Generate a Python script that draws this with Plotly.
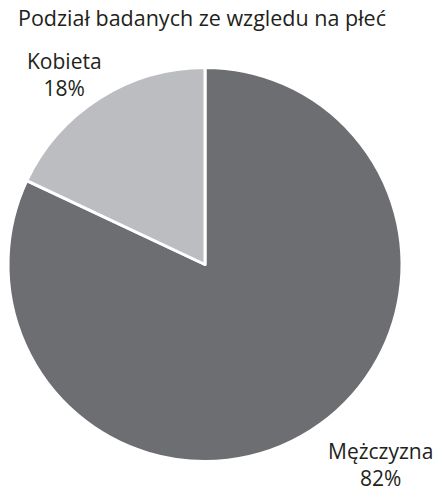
import plotly.graph_objects as go

# gender split of respondents (clockwise from 12 o'clock)
labels = ["Mężczyzna", "Kobieta"]
values = [82, 18]
colors = ["#6d6e71", "#bcbdc0"]

W, H = 435, 493

fig = go.Figure()
fig.add_trace(go.Pie(
    labels=labels,
    values=values,
    sort=False,
    direction="clockwise",
    rotation=0,
    marker=dict(colors=colors, line=dict(color="white", width=3)),
    textinfo="none",
    hoverinfo="label+percent",
    showlegend=False,
    domain=dict(x=[8 / W, 402 / W], y=[1 - 462 / H, 1 - 67 / H]),
))

# outside labels, placed by hand like in the original
label_pos = {"Kobieta": (64, 75), "Mężczyzna": (380, 464)}
for lab, val in zip(labels, values):
    px_, py_ = label_pos[lab]
    fig.add_annotation(
        x=px_ / W, y=1 - py_ / H, xref="paper", yref="paper",
        xanchor="center", yanchor="middle",
        text=f"{lab}<br>{val}%", showarrow=False,
        font=dict(size=21, color="#231f20"), align="center",
    )

fig.update_layout(
    width=W, height=H,
    margin=dict(l=0, r=0, t=0, b=0),
    paper_bgcolor="white",
    font=dict(family="Open Sans, Noto Sans, sans-serif", color="#231f20"),
    title=dict(text="Podział badanych ze wzgledu na płeć", x=18 / W, xanchor="left",
               y=1 - 18 / H, yanchor="middle", font=dict(size=21.5, color="#231f20")),
)

fig.write_html("out.html", config={"displayModeBar": False},
               post_script="document.body.style.margin='0';")
